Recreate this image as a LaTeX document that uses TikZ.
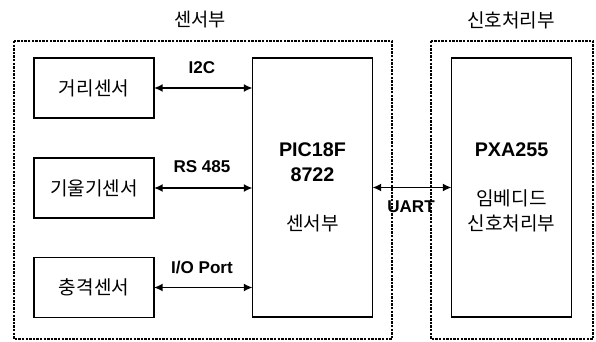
\documentclass[tikz,border=0pt]{standalone}
\usepackage{fontspec}
\setmainfont{Liberation Sans}
\newfontfamily\kr{Noto Sans CJK KR}
\usepackage{tikz}
\usetikzlibrary{calc,arrows.meta}

\begin{document}
\begin{tikzpicture}[
        x=0.75pt, y=-0.75pt,
        sensor/.style={
            rectangle,
            draw,
            line width=1pt,
            align=center,
            minimum width=90pt,
            minimum height=45pt,
            font=\kr\fontsize{14.3}{16}\selectfont,
            inner sep=2pt,
            outer sep=0pt
        },
        unit/.style={
            rectangle,
            draw,
            line width=1pt,
            minimum width=90pt,
            minimum height=194pt,
            outer sep=0pt
        },
        group/.style={
            draw,
            line width=0.9pt,
            dash pattern=on 1.8pt off 0.9pt
        },
        bus/.style={
            {Latex[length=6.5pt,width=6pt]}-{Latex[length=6.5pt,width=6pt]},
            line width=1.3pt
        },
        buslabel/.style={
            font=\bfseries\fontsize{12.8}{14}\selectfont
        }
    ]

        \useasboundingbox (0,0) rectangle (596,342);

        % sensor side
        \draw[group] (14,41) rectangle (392,339);
        \node[font=\kr\fontsize{14}{16}\selectfont] (sensortitle) at (200,20) {센서부};

        \node[sensor] (dist) at (94,88) {거리센서};
        \node[sensor] (tilt) at (94,188) {기울기센서};
        \node[sensor] (shock) at (94,287.5) {충격센서};

        \node[unit] (pic) at (312.5,187.5) {};
        \node[font=\bfseries\fontsize{14.8}{19}\selectfont, align=center] (picname) at (312.5,162) {PIC18F\\8722};
        \node[font=\kr\fontsize{14.3}{16}\selectfont] (picsub) at (312.5,223) {센서부};

        % signal processing side
        \draw[group] (431,41) rectangle (593,339);
        \node[font=\kr\fontsize{14.3}{16}\selectfont] (proctitle) at (511,20) {신호처리부};

        \node[unit] (pxa) at (511.5,187.5) {};
        \node[font=\bfseries\fontsize{14.8}{16}\selectfont] (pxaname) at (511.5,150) {PXA255};
        \node[font=\kr\fontsize{14.3}{19}\selectfont, align=center] (pxasub) at (511.5,211) {임베디드\\신호처리부};

        % buses
        \draw[bus] (dist.east) -- (dist.east -| pic.west);
        \draw[bus] (tilt.east) -- (tilt.east -| pic.west);
        \draw[bus] (shock.east) -- (shock.east -| pic.west);
        \draw[bus] (pic.east) -- (pxa.west);

        \node[buslabel] (i2c) at (202,68) {I2C};
        \node[buslabel] (rs) at (202,167) {RS 485};
        \node[buslabel] (io) at (202,267) {I/O Port};
        \node[buslabel] (uart) at (411,207) {UART};

    \end{tikzpicture}
\end{document}
